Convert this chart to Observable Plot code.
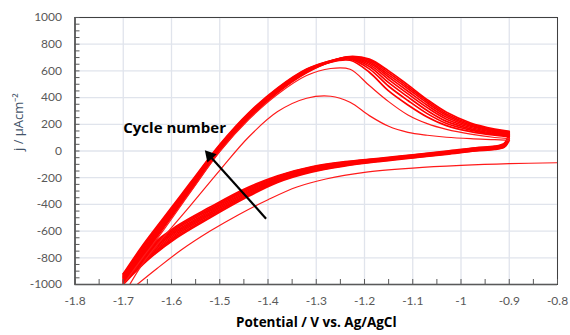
<!DOCTYPE html>
<html><head><meta charset="utf-8">
<script src="https://cdn.jsdelivr.net/npm/d3@7"></script>
<script src="https://cdn.jsdelivr.net/npm/@observablehq/plot@0.6"></script>
<style>body{margin:0;background:#fff}</style>
</head><body><div id="chart"></div>
<script>
// ---- tick labels / axis text ----
const xTickValues = [-1.8,-1.7,-1.6,-1.5,-1.4,-1.3,-1.2,-1.1,-1,-0.9,-0.8];
const yTickValues = [-1000,-800,-600,-400,-200,0,200,400,600,800,1000];
const xTitle = "Potential / V vs. Ag/AgCl";
const yTitle = "j / µAcm⁻²";
const noteText = [{E: -1.70, j: 172, text: "Cycle number"}];
const arrowShaft = [{E1: -1.404, j1: -507, E2: -1.521, j2: -35}];
const arrowHead = [{E: -1.521, j: -35}];

// ---- first cathodic sweep (from open circuit) ----
const firstSweepE = [-0.80,-0.90,-1.00,-1.10,-1.20,-1.28,-1.34,-1.40,-1.46,-1.52,-1.58,-1.63,-1.70];
const firstSweepJ = [-88,-95,-108,-128,-160,-210,-270,-365,-475,-600,-742,-880,-1085];

// ---- anodic sweeps (shared potential grid) ----
const anodicE = [-1.70,-1.66,-1.62,-1.56,-1.50,-1.44,-1.38,-1.32,-1.27,-1.23,-1.19,-1.15,-1.11,-1.07,-1.03,-0.98,-0.93,-0.90];
const anodic1  = [-1085,-845,-660,-405,-145,105,295,395,410,365,265,185,140,118,103,92,85,80];
const anodic2  = [-1000,-800,-610,-305,-5,235,425,565,618,612,490,370,270,205,162,126,101,92];
const anodic3  = [-990,-792,-594,-296,0,244,438,586,665,680,590,450,345,255,190,145,118,108];
const anodic4  = [-980,-780,-583,-287,7,250,443,590,667,688,615,485,378,280,206,156,124,114];
const anodic5  = [-970,-768,-572,-278,14,256,448,594,669,694,633,512,405,303,222,166,131,120];
const anodic6  = [-960,-756,-561,-269,21,262,453,598,671,698,647,535,428,325,238,176,138,126];
const anodic7  = [-950,-744,-550,-260,28,268,458,602,672,701,659,554,448,343,253,185,145,131];
const anodic8  = [-940,-732,-539,-251,35,274,463,606,674,704,669,570,466,359,266,194,152,137];
const anodic9  = [-930,-720,-528,-242,42,280,468,610,675,706,679,586,481,373,278,202,158,143];
const anodic10 = [-920,-708,-517,-233,49,286,473,614,676,708,688,600,495,385,290,210,165,148];

// ---- cathodic sweeps, cycles 2-10 ----
const cathodicE = [-0.90,-0.91,-0.93,-0.97,-1.03,-1.10,-1.17,-1.24,-1.31,-1.38,-1.45,-1.52,-1.59,-1.65,-1.70];
const cathodic2  = [80,30,12,0,-25,-52,-79,-112,-158,-235,-358,-500,-652,-819,-1000];
const cathodic3  = [92,33,15,3,-22,-49,-76,-108,-153,-229,-349,-490,-641,-808,-990];
const cathodic4  = [108,37,18,6,-19,-46,-73,-104,-148,-223,-340,-480,-630,-797,-980];
const cathodic5  = [114,40,21,9,-16,-43,-70,-100,-143,-216,-331,-470,-619,-786,-970];
const cathodic6  = [120,44,24,12,-13,-40,-67,-96,-138,-210,-322,-460,-608,-775,-960];
const cathodic7  = [126,47,27,15,-10,-37,-64,-92,-133,-204,-313,-450,-597,-764,-950];
const cathodic8  = [131,51,30,18,-7,-34,-61,-88,-128,-198,-304,-440,-586,-753,-940];
const cathodic9  = [137,54,33,21,-4,-31,-58,-84,-123,-191,-295,-430,-575,-742,-930];
const cathodic10 = [143,58,36,24,-1,-28,-55,-80,-118,-185,-286,-420,-564,-731,-920];

// ---- long table for the library ----
const rows = [];
function addSweep(name, E, J, thin) { E.forEach((e, i) => rows.push({sweep: name, E: e, j: J[i], thin})); }
addSweep("first", firstSweepE, firstSweepJ, true);
addSweep("a1", anodicE, anodic1, true);
addSweep("a2", anodicE, anodic2, true);
[anodic3,anodic4,anodic5,anodic6,anodic7,anodic8,anodic9,anodic10].forEach((J,i)=>addSweep("a"+(i+3), anodicE, J, false));
[cathodic2,cathodic3,cathodic4,cathodic5,cathodic6,cathodic7,cathodic8,cathodic9,cathodic10].forEach((J,i)=>addSweep("c"+(i+2), cathodicE, J, false));

const xMinor = d3.range(0, 21).map(i => -1.8 + i * 0.05);
const yMinor = d3.range(-1000, 1001, 50);

const chart = Plot.plot({
  width: 570, height: 335,
  marginLeft: 74.5, marginRight: 13, marginTop: 17, marginBottom: 51,
  x: {domain: [-1.8, -0.8], label: null},
  y: {domain: [-1000, 1000], label: null},
  style: {fontFamily: "Lato, 'Open Sans', sans-serif", fontSize: "12px", background: "#fff", overflow: "visible"},
  marks: [
    Plot.gridX(xTickValues, {stroke: "#e0e4ec", strokeOpacity: 1, strokeWidth: 1.3}),
    Plot.gridY(yTickValues, {stroke: "#e0e4ec", strokeOpacity: 1, strokeWidth: 1.3}),
    Plot.line(rows.filter(d => !d.thin), {x: "E", y: "j", z: "sweep", stroke: "#ff0000", strokeWidth: 1.7, curve: "catmull-rom", clip: true}),
    Plot.line(rows.filter(d => d.thin), {x: "E", y: "j", z: "sweep", stroke: "#ff1a1a", strokeWidth: 1.2, curve: "catmull-rom", clip: true}),
    Plot.frame({stroke: "#404040", strokeWidth: 1}),
    Plot.ruleX([-1.8], {stroke: "#595959", strokeWidth: 1.6}),
    Plot.ruleY([-1000], {stroke: "#595959", strokeWidth: 1.6}),
    Plot.axisX(xMinor, {tickSize: -5, text: null, stroke: "#595959", label: null}),
    Plot.axisY(yMinor, {tickSize: -5, text: null, stroke: "#595959", label: null}),
    Plot.axisX(xTickValues, {tickSize: 0, tickPadding: 12, tickFormat: d => String(d), fill: "#595959", label: null}),
    Plot.axisY(yTickValues, {tickSize: 0, tickPadding: 13, tickFormat: d => String(d), fill: "#595959", label: null}),
    Plot.text([xTitle], {frameAnchor: "bottom", dy: 42, text: d => d, fontFamily: "'Open Sans', sans-serif", fontWeight: "bold", fontSize: 13.5, fill: "#000"}),
    Plot.text([yTitle], {frameAnchor: "left", dx: -56, rotate: -90, text: d => d, fontFamily: "'Open Sans', sans-serif", fontSize: 13, fill: "#44546a"}),
    Plot.text(noteText, {x: "E", y: "j", text: "text", textAnchor: "start", fontFamily: "'Open Sans', sans-serif", fontWeight: "bold", fontSize: 15, fill: "#000"}),
    Plot.link(arrowShaft, {x1: "E1", y1: "j1", x2: "E2", y2: "j2", stroke: "#000", strokeWidth: 2.2}),
    Plot.dot(arrowHead, {x: "E", y: "j", symbol: "triangle", r: 4.6, fill: "#000", rotate: -42})
  ]
});
document.getElementById("chart").appendChild(chart);
</script>
</body></html>
